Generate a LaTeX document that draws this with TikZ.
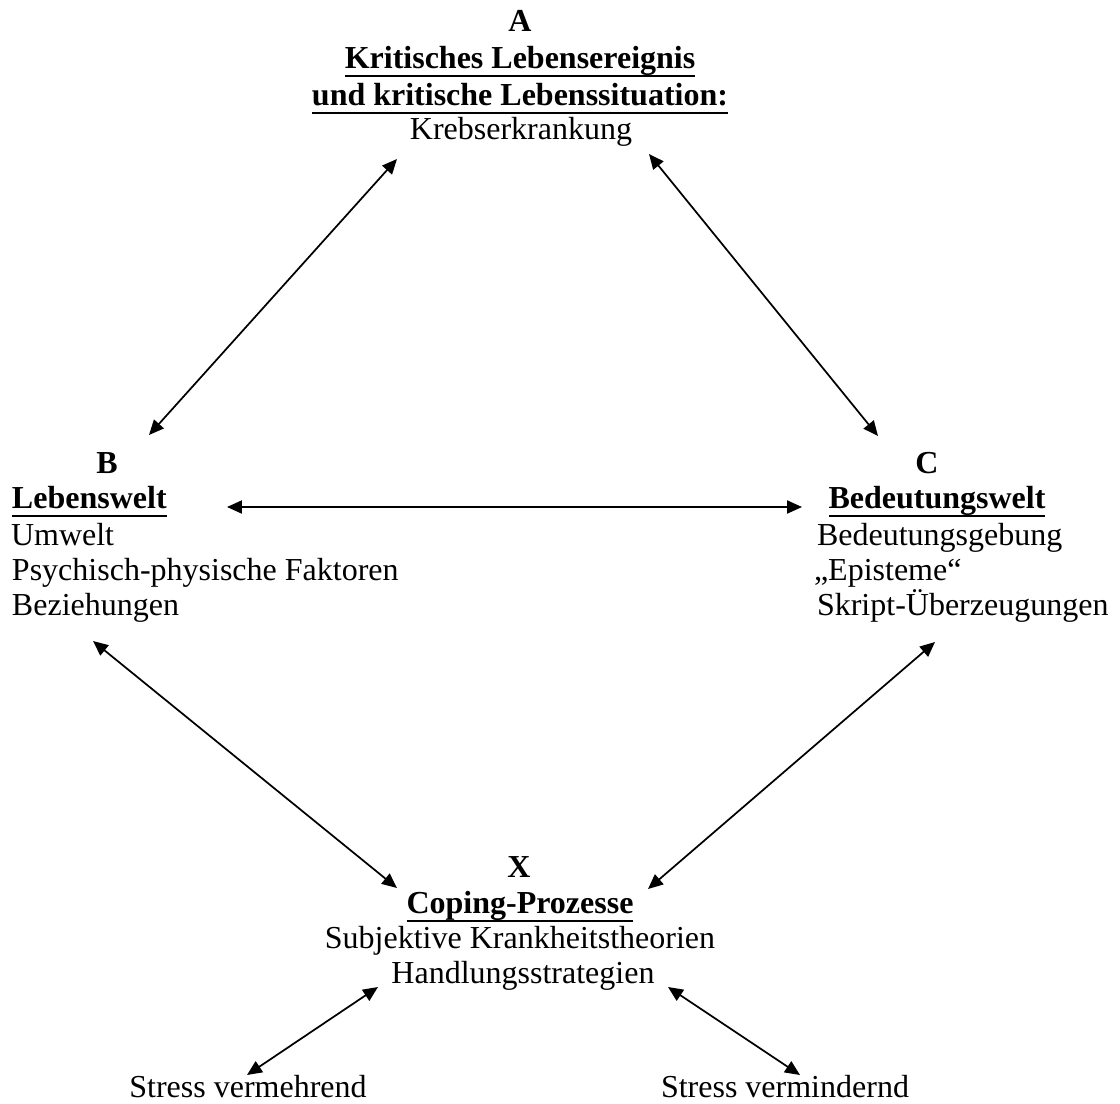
\documentclass[tikz,border=0pt]{standalone}
\usepackage{fontspec}
\setmainfont{Liberation Serif}
\usetikzlibrary{arrows.meta}
\newsavebox{\ulsave}
\newcommand{\myul}[1]{\sbox{\ulsave}{#1}\rlap{\rule[-3.2pt]{\wd\ulsave}{0.75pt}}\usebox{\ulsave}}
\begin{document}
\begin{tikzpicture}[x=0.375pt,y=-0.375pt,
  txt/.style={inner sep=0pt,outer sep=0pt,anchor=base,font=\fontsize{12}{13}\selectfont},
  txtl/.style={txt,anchor=base west},
  hd/.style={txt,font=\fontsize{12}{13}\selectfont\bfseries},
  hdl/.style={hd,anchor=base west},
  arr/.style={line width=0.65pt,{Triangle[length=5.6pt,width=4.9pt]}-{Triangle[length=5.6pt,width=4.9pt]}}]
\useasboundingbox (0,0) rectangle (1120,1103);
% A
\node[hd] (Ah) at (520,32) {A};
\node[hd] (A1) at (520,68) {\myul{Kritisches Lebensereignis}};
\node[hd] (A2) at (520,105) {\myul{und kritische Lebenssituation:}};
\node[txt] (A3) at (521,139) {Krebserkrankung};
% B
\node[hd] (Bh) at (107,473) {B};
\node[hdl] (B1) at (12,508) {\myul{Lebenswelt}};
\node[txtl] (B2) at (11,545) {Umwelt};
\node[txtl] (B3) at (12,580) {Psychisch-physische Faktoren};
\node[txtl] (B4) at (12,615) {Beziehungen};
% C
\node[hd] (Ch) at (927,473) {C};
\node[hd] (C1) at (937,508) {\myul{Bedeutungswelt}};
\node[txtl] (C2) at (817,545) {Bedeutungsgebung};
\node[txtl] (C3) at (814,580) {„Episteme“};
\node[txtl] (C4) at (817,615) {Skript-Überzeugungen};
% X
\node[hd] (Xh) at (519,877) {X};
\node[hd] (X1) at (520,913) {\myul{Coping-Prozesse}};
\node[txt] (X2) at (520,948) {Subjektive Krankheitstheorien};
\node[txt] (X3) at (523,983) {Handlungsstrategien};
% bottom
\node[txt] (S1) at (248,1097) {Stress vermehrend};
\node[txt] (S2) at (785,1097) {Stress vermindernd};
% connector end points
\coordinate (aB) at (397,159);
\coordinate (bA) at (149,435);
\coordinate (aC) at (649,154);
\coordinate (cA) at (878,436);
\coordinate (bC) at (227,507);
\coordinate (cB) at (802,507);
\coordinate (bX) at (93,641);
\coordinate (xB) at (397,888);
\coordinate (cX) at (935,642);
\coordinate (xC) at (648,889);
\coordinate (xS1) at (378,987);
\coordinate (s1X) at (247,1075);
\coordinate (xS2) at (668,987);
\coordinate (s2X) at (800,1075);
\draw[arr] (aB) -- (bA);
\draw[arr] (aC) -- (cA);
\draw[arr] (bC) -- (cB);
\draw[arr] (bX) -- (xB);
\draw[arr] (cX) -- (xC);
\draw[arr] (xS1) -- (s1X);
\draw[arr] (xS2) -- (s2X);
\end{tikzpicture}
\end{document}
